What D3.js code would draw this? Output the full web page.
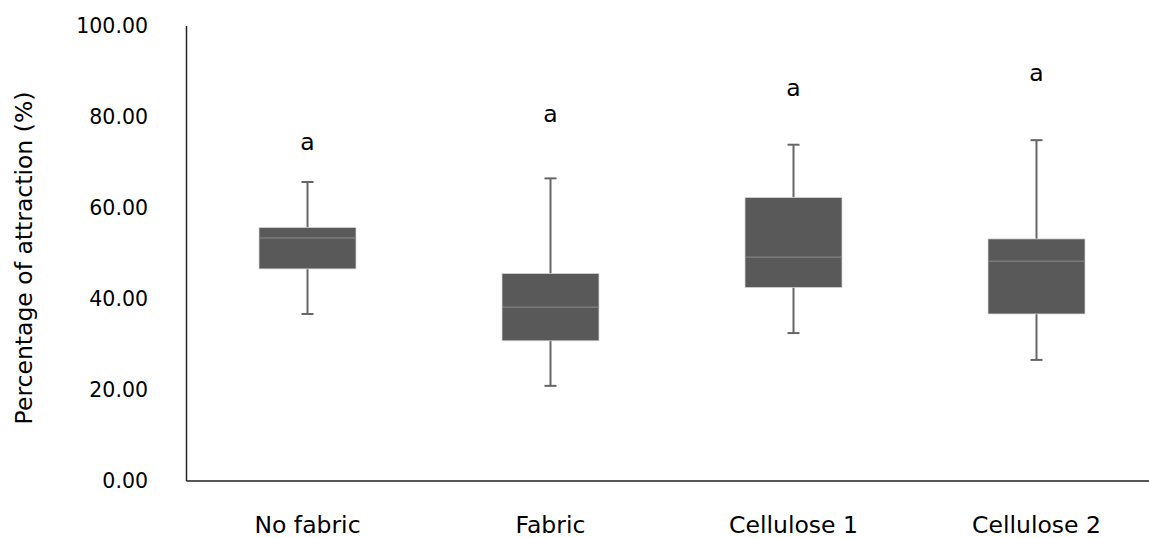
<!DOCTYPE html>
<html>
<head>
<meta charset="utf-8">
<script src="https://cdn.jsdelivr.net/npm/d3@7"></script>
<style>
  body { margin: 0; background: #fff; }
  text { font-family: "DejaVu Sans", sans-serif; fill: #000; }
</style>
</head>
<body>
<div id="main"></div>
<script>
// box plot values
var categories = ['No fabric', 'Fabric', 'Cellulose 1', 'Cellulose 2'];
var maxVals = [65.6, 66.4, 73.8, 74.8];
var q3Vals = [55.6, 45.5, 62.2, 53.1];
var medianVals = [53.3, 38.1, 49.1, 48.2];
var q1Vals = [46.5, 30.7, 42.4, 36.6];
var minVals = [36.6, 20.8, 32.4, 26.5];
var letters = ['a', 'a', 'a', 'a'];
var letterPos = [72.7, 78.9, 84.4, 87.7];
var yTicks = [0, 20, 40, 60, 80, 100];

var data = categories.map(function(c, i) {
  return {
    name: c,
    max: maxVals[i],
    q3: q3Vals[i],
    median: medianVals[i],
    q1: q1Vals[i],
    min: minVals[i],
    letter: letters[i],
    letterY: letterPos[i]
  };
});

var width = 1149, height = 538;

var svg = d3.select('#main')
  .append('svg')
  .attr('width', width)
  .attr('height', height);

var x = d3.scaleBand()
  .domain(categories)
  .range([186, 1158])
  .paddingInner(0)
  .paddingOuter(0);

var y = d3.scaleLinear()
  .domain([0, 100])
  .range([480.5, 25.5]);

var boxW = 97, capW = 12;

// y axis
var yAxis = svg.append('g')
  .attr('transform', 'translate(186,0)')
  .call(d3.axisLeft(y).tickValues(yTicks).tickFormat(d3.format('.2f')).tickSize(0).tickPadding(38));
yAxis.select('.domain').attr('stroke', '#222').attr('stroke-width', 1.5);
yAxis.selectAll('text')
  .style('font-family', '"DejaVu Sans", sans-serif')
  .style('font-size', '20.5px')
  .attr('fill', '#000');

// x axis
var xAxis = svg.append('g')
  .attr('transform', 'translate(0,480.5)')
  .call(d3.axisBottom(x).tickSize(0).tickSizeOuter(0));
xAxis.select('.domain').attr('stroke', '#222').attr('stroke-width', 1.5);
xAxis.selectAll('text')
  .attr('y', 52)
  .attr('dy', 0)
  .style('font-family', '"DejaVu Sans", sans-serif')
  .style('font-size', '23.5px')
  .attr('fill', '#000');

// y axis title
svg.append('text')
  .attr('transform', 'translate(32,258) rotate(-90)')
  .attr('text-anchor', 'middle')
  .style('font-size', '23.5px')
  .text('Percentage of attraction (%)');

var groups = svg.selectAll('.box')
  .data(data)
  .enter()
  .append('g')
  .attr('class', 'box')
  .attr('transform', function(d) {
    return 'translate(' + (x(d.name) + x.bandwidth() / 2) + ',0)';
  });

// whiskers
groups.append('line')
  .attr('x1', 0).attr('x2', 0)
  .attr('y1', function(d) { return y(d.max); })
  .attr('y2', function(d) { return y(d.min); })
  .attr('stroke', '#666')
  .attr('stroke-width', 2);

groups.selectAll('.cap')
  .data(function(d) { return [d.max, d.min]; })
  .enter()
  .append('line')
  .attr('class', 'cap')
  .attr('x1', -capW / 2).attr('x2', capW / 2)
  .attr('y1', function(v) { return y(v); })
  .attr('y2', function(v) { return y(v); })
  .attr('stroke', '#666')
  .attr('stroke-width', 2);

// boxes
groups.append('rect')
  .attr('x', -boxW / 2)
  .attr('width', boxW)
  .attr('y', function(d) { return y(d.q3); })
  .attr('height', function(d) { return y(d.q1) - y(d.q3); })
  .attr('fill', '#595959')
  .attr('stroke', '#d9d9d9')
  .attr('stroke-width', 0.75);

groups.append('line')
  .attr('x1', -boxW / 2).attr('x2', boxW / 2)
  .attr('y1', function(d) { return y(d.median); })
  .attr('y2', function(d) { return y(d.median); })
  .attr('stroke', '#8c8c8c')
  .attr('stroke-width', 1);

// significance letters
groups.append('text')
  .attr('text-anchor', 'middle')
  .attr('y', function(d) { return y(d.letterY); })
  .style('font-size', '23.5px')
  .text(function(d) { return d.letter; });
</script>
</body>
</html>
